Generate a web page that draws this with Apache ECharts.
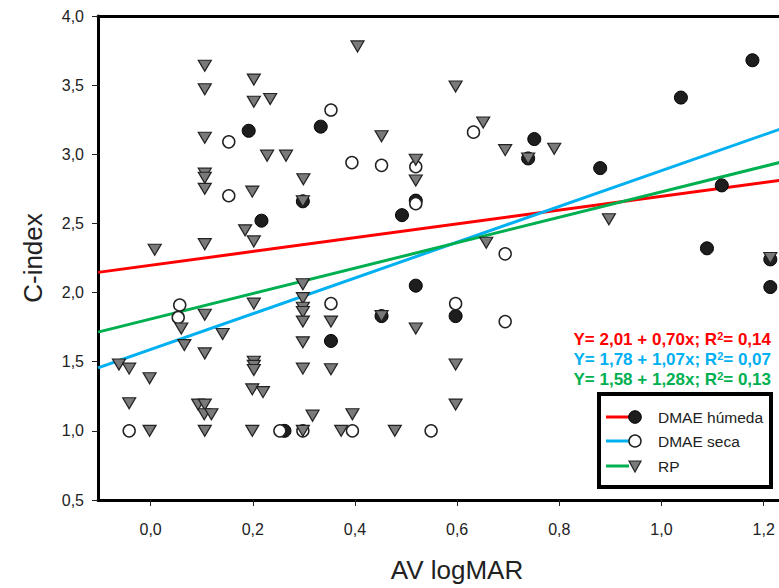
<!DOCTYPE html>
<html>
<head>
<meta charset="utf-8">
<script src="https://cdn.jsdelivr.net/npm/echarts@6/dist/echarts.min.js"></script>
<style>html,body{margin:0;padding:0;background:#fff;}#c{width:779px;height:588px;}</style>
</head>
<body>
<div id="c"></div>
<script>
// ---- data ----
const xTicks = [0.0, 0.2, 0.4, 0.6, 0.8, 1.0, 1.2];
const yTicks = [0.5, 1.0, 1.5, 2.0, 2.5, 3.0, 3.5, 4.0];

const humeda = [[0.192,3.17],[0.217,2.52],[0.333,3.20],[0.298,2.66],[0.353,1.65],[0.452,1.83],
  [0.492,2.56],[0.519,2.665],[0.519,2.05],[0.597,1.83],[0.739,2.97],[0.751,3.11],[0.880,2.90],
  [1.038,3.41],[1.089,2.32],[1.118,2.775],[1.178,3.68],[1.213,2.24],[1.213,2.04],[0.262,1.0]];

const seca = [[-0.042,1.0],[0.054,1.82],[0.057,1.91],[0.153,3.09],[0.153,2.70],[0.253,1.0],
  [0.298,1.0],[0.353,3.32],[0.353,1.92],[0.394,2.94],[0.395,1.0],[0.452,2.92],[0.519,2.91],
  [0.519,2.643],[0.549,1.0],[0.597,1.92],[0.632,3.16],[0.694,2.28],[0.694,1.79]];

const rp = [[0.106,3.64],[0.106,3.47],[0.202,3.54],[0.202,3.38],[0.234,3.40],[0.106,3.12],
  [0.228,2.99],[0.265,2.99],[0.106,2.86],[0.106,2.83],[0.106,2.75],[0.299,2.82],[0.199,2.73],
  [0.298,2.66],[0.185,2.45],[0.202,2.37],[0.106,2.35],[0.008,2.31],[0.405,3.78],[0.597,3.49],
  [0.651,3.23],[0.452,3.13],[0.519,2.96],[0.519,2.81],[0.694,3.03],[0.739,2.97],[0.790,3.04],
  [0.897,2.53],[1.213,2.25],[0.657,2.36],[0.298,2.06],[0.298,1.96],[0.298,1.89],[0.298,1.86],
  [0.298,1.79],[0.298,1.64],[0.106,1.84],[0.202,1.92],[0.060,1.74],[0.141,1.70],[0.066,1.62],
  [0.106,1.56],[0.353,1.79],[0.452,1.83],[0.519,1.74],[-0.062,1.48],[-0.042,1.45],[-0.002,1.38],
  [0.202,1.50],[0.202,1.47],[0.202,1.44],[0.298,1.45],[0.353,1.445],[0.199,1.30],[0.220,1.28],
  [-0.042,1.20],[0.093,1.19],[0.106,1.19],[0.105,1.12],[0.119,1.12],[0.317,1.11],[0.395,1.12],
  [0.597,1.48],[0.597,1.19],[-0.002,1.0],[0.106,1.0],[0.199,1.0],[0.298,1.0],[0.373,1.0],[0.478,1.0]];

// regression lines as drawn (endpoints read at the plot edges)
const fitHumeda = [[-0.103,2.146],[1.24,2.815]];
const fitSeca   = [[-0.103,1.455],[1.24,3.192]];
const fitRP     = [[-0.103,1.714],[1.24,2.949]];

const seriesNames = ['DMAE húmeda', 'DMAE seca', 'RP'];
const equations = [
  ['Y= 2,01 + 0,70x; R', '= 0,14'],
  ['Y= 1,78 + 1,07x; R', '= 0,07'],
  ['Y= 1,58 + 1,28x; R', '= 0,13']
];
// ---------------------------------------

const RED = '#ff0000', BLUE = '#00b0f0', GREEN = '#00b050';
const FONT = '"Liberation Sans", Arial, sans-serif';
const fmt = v => v.toFixed(1).replace('.', ',');

const chart = echarts.init(document.getElementById('c'), null, {renderer: 'svg'});

function lineSeries(data, color) {
  return {type: 'line', data: data, symbol: 'none', z: 1, silent: true,
    lineStyle: {color: color, width: 3}, animation: false};
}

const triPath = 'path://M0,0 L12,0 L6,10 Z';

const eqColors = [RED, BLUE, GREEN];
const graphics = [];
equations.forEach((e, i) => {
  graphics.push({
    type: 'text', right: 8, top: 330 + i * 20,
    style: {
      text: '{a|' + e[0] + '}{s|2}{a|' + e[1] + '}',
      rich: {
        a: {fontFamily: FONT, fontWeight: 'bold', fontSize: 17, fill: eqColors[i]},
        s: {fontFamily: FONT, fontWeight: 'bold', fontSize: 11, fill: eqColors[i], verticalAlign: 'top', padding: [0,0,7,0]}
      }
    }
  });
});
// legend box
graphics.push({type: 'rect', shape: {x: 599, y: 394, width: 172, height: 93},
  style: {fill: '#fff', stroke: '#000', lineWidth: 4}});
const legRows = [417, 441, 466];
const legCols = [RED, BLUE, GREEN];
legRows.forEach((y, i) => {
  graphics.push({type: 'line', shape: {x1: 606, y1: y, x2: 629, y2: y}, style: {stroke: legCols[i], lineWidth: 3}});
  if (i === 0) graphics.push({type: 'circle', shape: {cx: 635, cy: y, r: 6.3}, style: {fill: '#1e1e1e', stroke: '#000', lineWidth: 1}});
  if (i === 1) graphics.push({type: 'circle', shape: {cx: 635, cy: y, r: 6}, style: {fill: '#fff', stroke: '#222', lineWidth: 1.5}});
  if (i === 2) graphics.push({type: 'polygon', shape: {points: [[629, y - 5], [641, y - 5], [635, y + 6]]}, style: {fill: '#7a7a7a', stroke: '#222', lineWidth: 1.2}});
  graphics.push({type: 'text', x: 658, y: y, style: {text: seriesNames[i], fontFamily: FONT, fontSize: 15.5, fill: '#222', verticalAlign: 'middle'}});
});

const option = {
  animation: false,
  backgroundColor: '#fff',
  grid: {left: 98, top: 16, right: 0, bottom: 86, containLabel: false},
  xAxis: [{
    type: 'value', min: -0.103, max: 1.23,
    name: 'AV logMAR', nameLocation: 'middle', nameGap: 57,
    nameTextStyle: {fontFamily: FONT, fontSize: 26, color: '#222', padding: [0, 0, 0, 37]},
    axisLine: {show: true, onZero: false, lineStyle: {color: '#000', width: 3}},
    axisTick: {show: true, inside: false, length: 6, lineStyle: {color: '#222', width: 1}, customValues: xTicks},
    axisLabel: {fontFamily: FONT, fontSize: 16, color: '#222', margin: 21, customValues: xTicks, formatter: fmt},
    splitLine: {show: false}
  }, {
    type: 'value', position: 'top', min: -0.103, max: 1.23,
    axisLine: {show: true, onZero: false, lineStyle: {color: '#000', width: 3}},
    axisTick: {show: false}, axisLabel: {show: false}, splitLine: {show: false}
  }],
  yAxis: {
    type: 'value', min: 0.5, max: 4.0, interval: 0.5,
    name: 'C-index', nameLocation: 'middle', nameGap: 52, nameRotate: 90,
    nameTextStyle: {fontFamily: FONT, fontSize: 26, color: '#222'},
    axisLine: {show: true, onZero: false, lineStyle: {color: '#000', width: 3}},
    axisTick: {show: true, inside: false, length: 6, lineStyle: {color: '#222', width: 1}},
    axisLabel: {fontFamily: FONT, fontSize: 16, color: '#222', margin: 14, formatter: fmt},
    splitLine: {show: false}
  },
  series: [
    lineSeries(fitHumeda, RED),
    lineSeries(fitSeca, BLUE),
    lineSeries(fitRP, GREEN),
    {name: seriesNames[0], type: 'scatter', data: humeda, symbol: 'circle', symbolSize: 13, z: 3,
      itemStyle: {color: '#1e1e1e', borderColor: '#000', borderWidth: 1, opacity: 1}},
    {name: seriesNames[1], type: 'scatter', data: seca, symbol: 'circle', symbolSize: 12, z: 4,
      itemStyle: {color: '#fff', borderColor: '#222', borderWidth: 1.5, opacity: 1}},
    {name: seriesNames[2], type: 'scatter', data: rp, symbol: triPath, symbolSize: [13, 11], z: 5,
      itemStyle: {color: '#7a7a7a', borderColor: '#222', borderWidth: 1.2, opacity: 1}}
  ],
  graphic: graphics
};
chart.setOption(option);
</script>
</body>
</html>
